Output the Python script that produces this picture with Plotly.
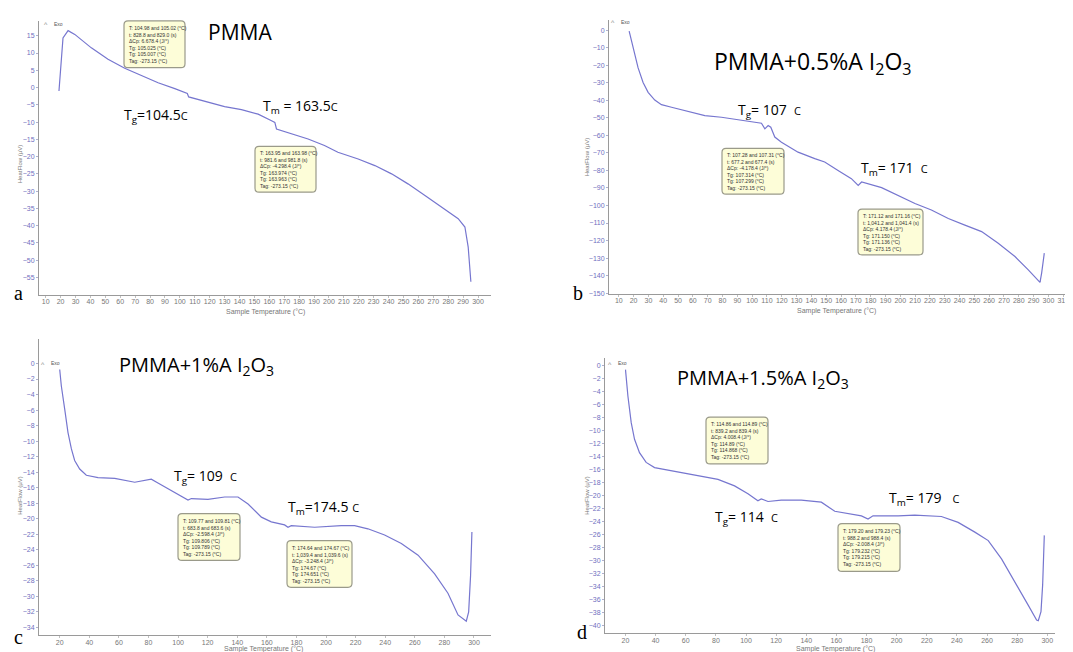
import plotly.graph_objects as go

W, H = 1073, 652

# ---------------- data ----------------
temp_a = [18.9, 21.6, 25.0, 29.5, 40.6, 51.8, 63.0, 74.2, 85.4, 96.6, 103.3, 105.0, 105.9,
          119.0, 130.0, 141.3, 152.5, 161.5, 163.7, 164.8, 174.9, 186.0, 197.0, 206.0,
          219.6, 230.8, 242.0, 253.0, 264.4, 275.5, 286.7, 291.2, 293.4, 295.2]
heat_a = [-1.0, 14.4, 16.5, 15.4, 11.5, 8.2, 5.6, 3.4, 1.4, -0.3, -1.4, -1.7, -2.7,
          -4.3, -5.5, -6.4, -7.7, -9.6, -10.1, -12.0, -13.3, -14.9, -16.8, -18.75,
          -20.7, -22.6, -25.0, -27.9, -31.25, -34.6, -38.0, -40.4, -46.2, -56.25]

temp_b = [17.0, 19.7, 23.0, 26.4, 29.8, 34.3, 38.8, 45.6, 56.8, 68.1, 79.3, 92.8, 106.3,
          108.6, 110.8, 112.6, 115.3, 119.8, 131.0, 142.3, 149.0, 158.0, 167.0, 171.6,
          173.9, 187.4, 198.6, 209.9, 221.0, 232.4, 243.6, 254.9, 266.1, 277.4, 286.4,
          293.1, 294.3, 295.4, 297.2]
heat_b = [-0.6, -10.0, -21.4, -29.9, -35.5, -39.9, -42.5, -44.0, -46.3, -48.8, -49.7, -51.2,
          -53.1, -56.3, -54.4, -55.4, -61.0, -63.9, -69.6, -73.3, -75.2, -80.0, -84.7,
          -88.5, -86.6, -89.8, -94.1, -98.9, -102.6, -107.4, -111.2, -114.9, -121.6,
          -129.1, -136.7, -142.7, -143.9, -138.6, -127.2]

temp_c = [20.0, 21.1, 23.4, 25.6, 27.9, 30.1, 33.5, 38.0, 45.9, 57.2, 70.7, 81.9, 86.4,
          97.7, 106.7, 109.0, 120.2, 131.5, 140.5, 147.3, 156.3, 163.0, 172.0, 174.3,
          176.5, 192.3, 210.3, 219.3, 228.3, 239.6, 250.9, 262.2, 273.4, 282.4, 289.2,
          294.8, 296.4, 297.7, 298.6]
heat_c = [-0.77, -2.9, -5.9, -8.9, -11.0, -12.5, -13.6, -14.4, -14.7, -14.8, -15.3, -14.9,
          -15.4, -16.6, -17.6, -17.4, -17.5, -17.2, -17.2, -18.1, -19.8, -20.4, -20.8,
          -21.1, -20.9, -21.1, -20.9, -20.9, -21.3, -22.1, -23.2, -24.7, -27.1, -29.6,
          -32.4, -33.2, -32.0, -27.3, -21.7]

temp_d = [20.0, 21.6, 23.8, 26.0, 29.3, 33.7, 39.3, 50.3, 61.4, 72.5, 81.4, 92.4, 101.3,
          107.9, 110.1, 114.6, 123.4, 136.7, 150.0, 158.9, 167.7, 176.6, 181.0, 184.3,
          201.0, 212.0, 229.7, 240.8, 251.9, 260.8, 269.6, 278.5, 287.3, 292.9, 294.0,
          295.8, 296.9, 298.0]
heat_d = [-0.66, -4.7, -8.8, -11.35, -13.4, -14.9, -15.7, -16.2, -16.7, -17.2, -17.5, -18.5,
          -19.7, -20.8, -20.5, -20.9, -20.7, -20.7, -21.0, -22.4, -22.8, -23.1, -23.6,
          -23.1, -23.1, -23.0, -23.2, -24.1, -25.6, -26.9, -29.7, -33.2, -36.8, -39.1,
          -39.2, -37.8, -33.7, -26.1]

titles = ["PMMA",
          "PMMA+0.5%A I<sub>2</sub>O<sub>3</sub>",
          "PMMA+1%A I<sub>2</sub>O<sub>3</sub>",
          "PMMA+1.5%A I<sub>2</sub>O<sub>3</sub>"]
tg_labels = ["T<sub>g</sub>=104.5<span style='font-size:11px'>C</span>",
             "T<sub>g</sub>= 107  <span style='font-size:11px'>C</span>",
             "T<sub>g</sub>= 109  <span style='font-size:11px'>C</span>",
             "T<sub>g</sub>= 114  <span style='font-size:11px'>C</span>"]
tm_labels = ["T<sub>m</sub> = 163.5<span style='font-size:11px'>C</span>",
             "T<sub>m</sub>= 171  <span style='font-size:11px'>C</span>",
             "T<sub>m</sub>=174.5 <span style='font-size:11px'>C</span>",
             "T<sub>m</sub>= 179   <span style='font-size:11px'>C</span>"]
panel_letters = ["a", "b", "c", "d"]
box_texts = [
    ["T: 104.98 and 105.02 (°C)<br>t: 828.8 and 829.0 (s)<br>ΔCp: 6.678.4 (J/°)<br>Tg: 105.025 (°C)<br>Tg: 105.007 (°C)<br>Tag: -273.15 (°C)",
     "T: 163.95 and 163.98 (°C)<br>t: 981.6 and 981.8 (s)<br>ΔCp: -4.298.4 (J/°)<br>Tg: 163.974 (°C)<br>Tg: 163.963 (°C)<br>Tag: -273.15 (°C)"],
    ["T: 107.28 and 107.31 (°C)<br>t: 677.2 and 677.4 (s)<br>ΔCp: -4.178.4 (J/°)<br>Tg: 107.314 (°C)<br>Tg: 107.299 (°C)<br>Tag: -273.15 (°C)",
     "T: 171.12 and 171.16 (°C)<br>t: 1,041.2 and 1,041.4 (s)<br>ΔCp: 4.178.4 (J/°)<br>Tg: 171.150 (°C)<br>Tg: 171.136 (°C)<br>Tag: -273.15 (°C)"],
    ["T: 109.77 and 109.81 (°C)<br>t: 683.8 and 683.6 (s)<br>ΔCp: -2.598.4 (J/°)<br>Tg: 109.806 (°C)<br>Tg: 109.789 (°C)<br>Tag: -273.15 (°C)",
     "T: 174.64 and 174.67 (°C)<br>t: 1,039.4 and 1,039.6 (s)<br>ΔCp: -3.248.4 (J/°)<br>Tg: 174.67 (°C)<br>Tg: 174.651 (°C)<br>Tag: -273.15 (°C)"],
    ["T: 114.86 and 114.89 (°C)<br>t: 839.2 and 839.4 (s)<br>ΔCp: 4.008.4 (J/°)<br>Tg: 114.89 (°C)<br>Tg: 114.868 (°C)<br>Tag: -273.15 (°C)",
     "T: 179.20 and 179.23 (°C)<br>t: 988.2 and 988.4 (s)<br>ΔCp: -2.008.4 (J/°)<br>Tg: 179.232 (°C)<br>Tg: 179.215 (°C)<br>Tag: -273.15 (°C)"],
]
x_ticks = [list(range(10, 301, 10)), list(range(10, 311, 10)),
           list(range(20, 301, 20)), list(range(20, 301, 20))]
y_ticks = [list(range(-55, 16, 5)), list(range(-150, 1, 10)),
           list(range(-34, 1, 2)), list(range(-40, 1, 2))]

# ---------------- layout geometry (pixels) ----------------
def px(x):
    return x / W

def py(y):
    return 1 - y / H

# left, right, top, bottom of each plot area in pixels
boxes_px = [(31, 483, 13, 288), (601, 1068, 12, 287), (31, 483, 333, 630), (597, 1047, 352, 628)]
x_ranges = [[5.5, 308.7], [3.4, 318.6], [6.0, 311.5], [6.4, 305.1]]
y_ranges = [[-60, 19.3], [-150.3, 5.8], [-35, 3.1], [-41.1, 1.07]]

temps = [temp_a, temp_b, temp_c, temp_d]
heats = [heat_a, heat_b, heat_c, heat_d]

line_color = "#7676cf"
axis_color = "#9a9a9a"
tick_blue = "#6f6fc0"

fig = go.Figure()
layout = dict(width=W, height=H, margin=dict(l=0, r=0, t=0, b=0),
              paper_bgcolor="white", plot_bgcolor="white", showlegend=False)

for i in range(4):
    n = "" if i == 0 else str(i + 1)
    fig.add_trace(go.Scatter(x=temps[i], y=heats[i], mode="lines",
                             line=dict(color=line_color, width=1.2),
                             xaxis="x" + n, yaxis="y" + n, hoverinfo="x+y"))
    l, r, t, b = boxes_px[i]
    layout["xaxis" + n] = dict(domain=[px(l), px(r)], range=x_ranges[i], anchor="y" + n,
                               showgrid=False, zeroline=False, showline=True,
                               linecolor=axis_color, linewidth=1,
                               ticks="outside", ticklen=2, tickcolor="#c0c0c0",
                               tickvals=x_ticks[i], ticklabelstandoff=-2,
                               tickfont=dict(size=7, color="#777777", family="Liberation Sans"))
    layout["yaxis" + n] = dict(domain=[py(b), py(t)], range=y_ranges[i], anchor="x" + n,
                               showgrid=False, zeroline=False, showline=True,
                               linecolor=axis_color, linewidth=1,
                               ticks="outside", ticklen=2, tickcolor="#b0b0d0",
                               tickvals=y_ticks[i],
                               tickfont=dict(size=7, color=tick_blue, family="Liberation Sans"))

fig.update_layout(**layout)

ann = []
shapes = []

def text(x, y, s, size, color="black", family="Open Sans", **kw):
    d = dict(x=px(x), y=py(y), xref="paper", yref="paper", text=s, showarrow=False,
             xanchor="center", yanchor="middle",
             font=dict(size=size, color=color, family=family))
    d.update(kw)
    ann.append(d)

# titles
title_pos = [(232, 24, 21), (805, 55, 23), (188, 359, 20), (755, 372, 20)]
for i, (x, y, s) in enumerate(title_pos):
    text(x, y, titles[i], s, family="Open Sans")

tg_pos = [(148, 108), (761, 103), (197, 471), (738, 512)]
tm_pos = [(292, 99), (886, 161), (315, 502), (916, 493)]
for i in range(4):
    text(*tg_pos[i], tg_labels[i], 14)
    text(*tm_pos[i], tm_labels[i], 14)

# panel letters
letter_pos = [(10, 286), (570, 286), (10, 632), (574, 627)]
for i in range(4):
    text(*letter_pos[i], panel_letters[i], 20, family="Liberation Serif")

# axis titles
xt_pos = [(257, 305), (828, 304), (255, 644), (827, 644)]
yt_pos = [(12, 157), (579, 150), (12, 490), (579, 490)]
for i in range(4):
    text(*xt_pos[i], "Sample Temperature (°C)", 7, color="#777777", family="Liberation Sans")
    text(*yt_pos[i], "HeatFlow (µV)", 6, color="#777777", family="Liberation Sans", textangle=-90)

# "Exo" markers
exo_pos = [(38, 17), (605, 15), (35, 358), (602, 358)]
for i in range(4):
    x, y = exo_pos[i]
    text(x, y, "^", 7, color="#888888", family="Liberation Sans")
    text(x + 12, y - 1, "Exo", 5, color="#555555", family="Liberation Sans")

# rounded info boxes
box_pos = [[(116, 13, 177, 60), (247, 139, 308, 185)],
           [(714, 141, 776, 187), (850, 202, 915, 248)],
           [(170, 508, 232, 555), (279, 535, 344, 582)],
           [(698, 411, 760, 458), (830, 518, 892, 566)]]

def rounded(x0, y0, x1, y1, r=4):
    X = lambda v: px(v)
    Y = lambda v: py(v)
    return (f"M {X(x0 + r)},{Y(y0)} L {X(x1 - r)},{Y(y0)} Q {X(x1)},{Y(y0)} {X(x1)},{Y(y0 + r)} "
            f"L {X(x1)},{Y(y1 - r)} Q {X(x1)},{Y(y1)} {X(x1 - r)},{Y(y1)} "
            f"L {X(x0 + r)},{Y(y1)} Q {X(x0)},{Y(y1)} {X(x0)},{Y(y1 - r)} "
            f"L {X(x0)},{Y(y0 + r)} Q {X(x0)},{Y(y0)} {X(x0 + r)},{Y(y0)} Z")

for i in range(4):
    for j in range(2):
        x0, y0, x1, y1 = box_pos[i][j]
        shapes.append(dict(type="path", path=rounded(x0, y0, x1, y1), xref="paper", yref="paper",
                           fillcolor="#fdfdd8", line=dict(color="#9a9a8a", width=1.2), layer="above"))
        ann.append(dict(x=px(x0 + 3), y=py(y0 + 2), xref="paper", yref="paper",
                        text=box_texts[i][j], showarrow=False, align="left",
                        xanchor="left", yanchor="top",
                        font=dict(size=5, color="#333333", family="Liberation Sans")))

fig.update_layout(annotations=ann, shapes=shapes)
fig.write_html("out.html")
